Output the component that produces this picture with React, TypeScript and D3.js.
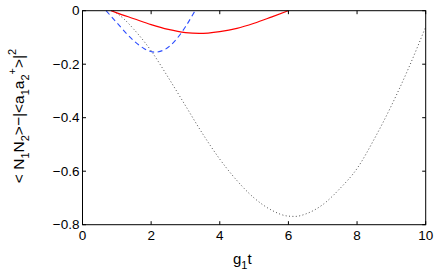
import React from 'react';
import * as d3 from 'd3';

// values
const dottedX = [0.9, 1.2, 1.5, 2.0, 2.5, 3.0, 3.5, 4.0, 4.5, 5.0, 5.5, 6.0, 6.2, 6.5, 7.0, 7.5, 8.0, 8.5, 9.0, 9.5, 10.0];
const dottedY = [0, -0.03, -0.07, -0.15, -0.25, -0.355, -0.46, -0.555, -0.635, -0.7, -0.745, -0.768, -0.769, -0.76, -0.725, -0.665, -0.59, -0.48, -0.355, -0.215, -0.06];

const redX = [0.83, 1.0, 1.5, 2.0, 2.5, 3.0, 3.4, 4.0, 4.5, 5.0, 5.5, 6.0];
const redY = [0, -0.008, -0.03, -0.052, -0.07, -0.082, -0.085, -0.078, -0.066, -0.047, -0.024, 0];

const blueX = [0.69, 1.0, 1.5, 1.8, 2.1, 2.4, 2.7, 3.0, 3.28];
const blueY = [0, -0.045, -0.113, -0.142, -0.155, -0.145, -0.112, -0.06, 0];

const xTicks = [0, 2, 4, 6, 8, 10];
const yTicks = [0, -0.2, -0.4, -0.6, -0.8];

const W = 436;
const H = 273;
const left = 82.5, right = 425.7, top = 10.7, bottom = 224.7;
const font = 'Liberation Sans, Arial, Helvetica, sans-serif';

const App = () => {
  const x = d3.scaleLinear().domain([0, 10]).range([left, right]);
  const y = d3.scaleLinear().domain([-0.8, 0]).range([bottom, top]);

  const line = (xs: number[], ys: number[]) =>
    d3.line<number>()
      .x((d, i) => x(xs[i]))
      .y(d => y(d))
      .curve(d3.curveMonotoneX)(ys) || '';

  const tickLen = 3.5;

  return (
    <svg width={W} height={H} style={{ position: 'absolute', left: 0, top: 0, background: '#fff' }}>
      {/* curves */}
      <path d={line(dottedX, dottedY)} fill="none" stroke="#222" strokeWidth={0.8} strokeDasharray="1,2.4" />
      <path d={line(blueX, blueY)} fill="none" stroke="#2b4cff" strokeWidth={1.1} strokeDasharray="5,3.5" />
      <path d={line(redX, redY)} fill="none" stroke="#ff0000" strokeWidth={1.2} />

      {/* box */}
      <rect x={left} y={top} width={right - left} height={bottom - top} fill="none" stroke="#000" strokeWidth={1} />

      {/* x ticks */}
      {xTicks.map(t => (
        <g key={'x' + t}>
          <line x1={x(t)} x2={x(t)} y1={bottom} y2={bottom - tickLen} stroke="#000" />
          <line x1={x(t)} x2={x(t)} y1={top} y2={top + tickLen} stroke="#000" />
          <text x={x(t)} y={bottom + 15} textAnchor="middle" fontFamily={font} fontSize={13.5}>{t}</text>
        </g>
      ))}

      {/* y ticks */}
      {yTicks.map(t => (
        <g key={'y' + t}>
          <line x1={left} x2={left + tickLen} y1={y(t)} y2={y(t)} stroke="#000" />
          <line x1={right} x2={right - tickLen} y1={y(t)} y2={y(t)} stroke="#000" />
          <text x={left - 3} y={y(t) + 4.5} textAnchor="end" fontFamily={font} fontSize={13.5}>
            {t === 0 ? '0' : '\u2212' + Math.abs(t).toFixed(1)}
          </text>
        </g>
      ))}

      {/* x label */}
      <text x={233} y={264} fontFamily={font} fontSize={15}>
        g<tspan dy={5} fontSize={11}>1</tspan><tspan dy={-5}>t</tspan>
      </text>

      {/* y label */}
      <text transform={`translate(24, 116) rotate(-90)`} textAnchor="middle" fontFamily={font} fontSize={15.5}>
        {'< N'}<tspan dy={5} fontSize={11}>1</tspan>
        <tspan dy={-5}>N</tspan><tspan dy={5} fontSize={11}>2</tspan>
        <tspan dy={-5}>{'>\u2212|<a'}</tspan><tspan dy={5} fontSize={11}>1</tspan>
        <tspan dy={-5}>a</tspan><tspan dy={5} fontSize={11}>2</tspan>
        <tspan dy={-13} fontSize={11}>+</tspan>
        <tspan dy={8}>{'>|'}</tspan><tspan dy={-8} fontSize={11}>2</tspan>
      </text>
    </svg>
  );
};

export default App;
